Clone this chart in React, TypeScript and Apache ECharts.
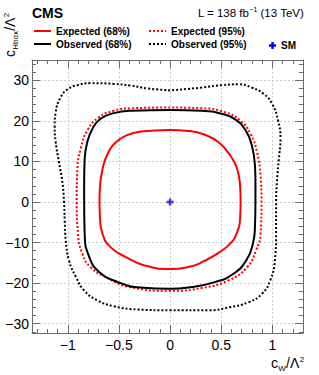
import React, { useEffect, useRef } from 'react';
import * as echarts from 'echarts';

const X_MIN = -1.35;
const X_MAX = 1.3;
const Y_MIN = -32.3;
const Y_MAX = 35;

const seriesNames = ['Expected (68%)', 'Expected (95%)', 'Observed (68%)', 'Observed (95%)', 'SM'];

const expected68: [number, number][] = [
  [0, 17.76], [-0.29, 17.35], [-0.42, 16.5], [-0.53, 14.7], [-0.61, 11.9], [-0.66, 8.2], [-0.686, 3.5], [-0.69, 0],
  [-0.685, -4], [-0.66, -7.9], [-0.58, -11.2], [-0.43, -13.6], [-0.25, -15.65], [0, -16.5],
  [0.2, -15.9], [0.33, -14.6], [0.47, -12.6], [0.59, -10.2], [0.655, -7.5], [0.685, -4], [0.69, 0],
  [0.686, 3.5], [0.656, 8.2], [0.59, 11.4], [0.476, 14.7], [0.346, 16.5], [0.18, 17.5], [0, 17.76],
];

const observed68: [number, number][] = [
  [0, 22.7], [-0.385, 22.5], [-0.55, 21.9], [-0.68, 20.5], [-0.76, 18], [-0.81, 14.7], [-0.835, 10.6], [-0.84, 5],
  [-0.84, 0], [-0.835, -7.9], [-0.79, -13.6], [-0.69, -17.3], [-0.51, -19.75], [-0.29, -21.1], [0, -21.4],
  [0.18, -21.1], [0.44, -19.75], [0.62, -17.7], [0.745, -14.4], [0.81, -10.3], [0.83, -6.2], [0.835, 0],
  [0.835, 5], [0.83, 9], [0.8, 13.9], [0.74, 17.6], [0.64, 20.3], [0.51, 21.7], [0.31, 22.5], [0, 22.7],
];

const expected95: [number, number][] = [
  [0, 23.3], [-0.385, 23.1], [-0.55, 22.5], [-0.695, 20.9], [-0.81, 17.6], [-0.874, 13.1], [-0.906, 8.2], [-0.913, 0],
  [-0.9, -7.9], [-0.857, -12.8], [-0.776, -16.1], [-0.63, -18.5], [-0.385, -21], [0, -21.9],
  [0.31, -21.2], [0.575, -19.3], [0.753, -16.1], [0.84, -12], [0.885, -7.9], [0.894, 0],
  [0.885, 6.5], [0.85, 12.3], [0.787, 16.8], [0.69, 20], [0.54, 22.1], [0.31, 23.1], [0, 23.3],
];

const observed95: [number, number][] = [
  [0, 27.5], [-0.22, 28], [-0.385, 28.7], [-0.55, 29.1], [-0.776, 29.3], [-0.906, 28.8], [-1.0, 27.8], [-1.07, 25.8],
  [-1.118, 22.1], [-1.128, 18.8], [-1.118, 14.7], [-1.086, 9.8], [-1.053, 4.9], [-1.037, 0], [-1.03, -4.6],
  [-1.02, -9.5], [-0.988, -14.4], [-0.92, -18.5], [-0.84, -21.8], [-0.71, -24.25], [-0.55, -25.7], [-0.32, -26.5],
  [0, -26.7], [0.38, -26.7], [0.574, -26], [0.77, -24.7], [0.9, -22.6], [0.98, -19.3], [1.025, -14.4], [1.037, -7.9],
  [1.037, 0], [1.047, 5.7], [1.064, 10.6], [1.08, 15.6], [1.057, 20], [0.998, 24.2], [0.917, 26.6], [0.8, 28.2],
  [0.672, 29], [0.51, 28.8], [0.31, 28.2], [0, 27.5],
];

const smPoint: [number, number][] = [[0, 0]];

const FONT = '"Liberation Sans", Arial, Helvetica, sans-serif';
const FRAME = '#6a6a6a';
const PLUS = 'path://M2,0H4V2H6V4H4V6H2V4H0V2H2Z';

const fmt = (v: number) => String(+v.toFixed(2)).replace('-', '\u2212');

function axisBase(show: boolean) {
  return {
    min: 0,
    max: 0,
    splitNumber: 5,
    axisLine: { show: true, onZero: false, lineStyle: { color: FRAME, width: 1 } },
    axisTick: { show: true, inside: true, length: 8, lineStyle: { color: FRAME, width: 1 } },
    minorTick: { show: true, splitNumber: 5, length: 4, lineStyle: { color: FRAME, width: 1 } },
    splitLine: { show, lineStyle: { color: '#cccccc', type: [2, 2], width: 1 } },
    axisLabel: {
      show,
      fontSize: 14,
      fontFamily: FONT,
      color: '#000',
      showMinLabel: false,
      showMaxLabel: false,
      formatter: fmt,
    },
  };
}

function legendItem(name: string, left: number, top: number, extra: any = {}) {
  return {
    data: [name],
    left,
    top,
    padding: 0,
    itemWidth: 17,
    itemHeight: 10,
    selectedMode: false,
    itemStyle: { opacity: 0 },
    textStyle: { fontSize: 10, fontWeight: 'bold', fontFamily: FONT, color: '#000' },
    ...extra,
  };
}

function textEl(text: string, x: number, y: number, fontSize: number) {
  return {
    type: 'text',
    x,
    y: y - 0.35 * fontSize,
    style: { text, fontSize, fontFamily: FONT, fill: '#000', verticalAlign: 'middle', align: 'left' },
  };
}

export default function App() {
  const ref = useRef<HTMLDivElement>(null);
  useEffect(() => {
    const chart = echarts.init(ref.current!, null, { renderer: 'svg' });
    const xb = { ...axisBase(true), min: X_MIN, max: X_MAX };
    const xt = { ...axisBase(false), min: X_MIN, max: X_MAX };
    const yl = { ...axisBase(true), min: Y_MIN, max: Y_MAX };
    const yr = { ...axisBase(false), min: Y_MIN, max: Y_MAX };
    (xb.axisLabel as any).margin = 5;
    (yl.axisLabel as any).margin = 3;
    const SMOOTH = 0.5;
    const option: any = {
      animation: false,
      grid: { left: 32, top: 60, right: 16, bottom: 42, containLabel: false },
      xAxis: [
        { type: 'value', position: 'bottom', ...xb },
        { type: 'value', position: 'top', ...xt },
      ],
      yAxis: [
        { type: 'value', position: 'left', ...yl },
        { type: 'value', position: 'right', ...yr },
      ],
      title: {
        text: '{a|L = 138 fb}{s|\u22121}{a| (13 TeV)}',
        right: 15,
        top: 6,
        padding: 0,
        textStyle: {
          fontWeight: 'normal',
          rich: {
            a: { fontSize: 11.5, fontWeight: 'normal', fontFamily: FONT, color: '#000', lineHeight: 14 },
            s: { fontSize: 7, fontWeight: 'normal', fontFamily: FONT, color: '#000', lineHeight: 8, verticalAlign: 'top' },
          },
        },
      },
      legend: [
        legendItem(seriesNames[0], 33, 26),
        legendItem(seriesNames[1], 148, 26),
        legendItem(seriesNames[2], 33, 39),
        legendItem(seriesNames[3], 148, 39),
        legendItem(seriesNames[4], 269, 40.5, { itemWidth: 7, itemHeight: 7, icon: PLUS, itemStyle: { opacity: 1 } }),
      ],
      graphic: [
        {
          type: 'text',
          x: 32,
          y: 13,
          style: { text: 'CMS', fontSize: 14, fontWeight: 'bold', fontFamily: FONT, fill: '#000', verticalAlign: 'middle' },
        },
        {
          type: 'group',
          x: 15,
          y: 57,
          rotation: Math.PI / 2,
          children: [
            textEl('c', 0, 0, 14),
            textEl('Hbox', 7.3, 3, 8),
            textEl('/\u039B', 26.2, 0, 14),
            textEl('2', 39.8, -6, 8),
          ],
        },
        {
          type: 'group',
          x: 271,
          y: 368,
          children: [
            textEl('c', 0, 0, 14),
            textEl('W', 7.3, 3, 8),
            textEl('/\u039B', 15.1, 0, 14),
            textEl('2', 28.8, -6, 8),
          ],
        },
      ],
      series: [
        {
          name: seriesNames[1], type: 'line', data: expected95, smooth: SMOOTH, symbol: 'none',
          lineStyle: { color: '#ff0000', width: 2, type: [2, 2] }, itemStyle: { color: '#ff0000' },
        },
        {
          name: seriesNames[3], type: 'line', data: observed95, smooth: SMOOTH, symbol: 'none',
          lineStyle: { color: '#000000', width: 2, type: [2, 2] }, itemStyle: { color: '#000000' },
        },
        {
          name: seriesNames[2], type: 'line', data: observed68, smooth: SMOOTH, symbol: 'none',
          lineStyle: { color: '#000000', width: 2 }, itemStyle: { color: '#000000' },
        },
        {
          name: seriesNames[0], type: 'line', data: expected68, smooth: SMOOTH, symbol: 'none',
          lineStyle: { color: '#ff0000', width: 2 }, itemStyle: { color: '#ff0000' },
        },
        {
          name: seriesNames[4], type: 'scatter', data: smPoint, symbol: PLUS, symbolSize: 7,
          itemStyle: { color: '#0000ee' },
        },
      ],
    };
    chart.setOption(option);
    return () => chart.dispose();
  }, []);
  return <div ref={ref} style={{ position: 'absolute', left: 0, top: 0, width: 319, height: 375 }} />;
}
